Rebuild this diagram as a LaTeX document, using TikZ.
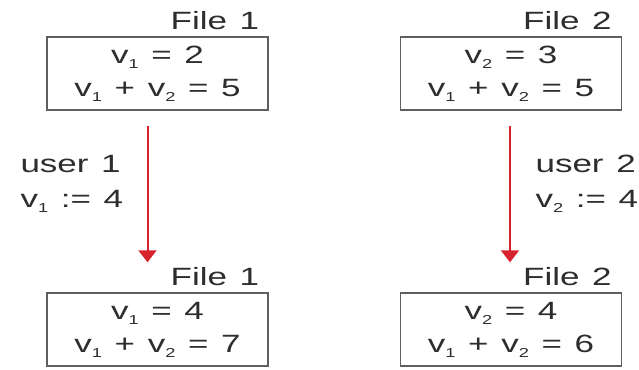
\documentclass[tikz,border=0pt]{standalone}
\usepackage{fontspec}
\setmainfont{Liberation Sans}[FakeStretch=1.4,WordSpace=1.3]
\usetikzlibrary{arrows.meta}
\definecolor{inkgray}{RGB}{45,45,45}
\definecolor{boxgray}{RGB}{95,95,95}
\definecolor{arrred}{RGB}{215,35,45}
\newcommand{\vv}[1]{v\raisebox{-5pt}{\fontsize{13}{13}\selectfont #1}}
\begin{document}
\begin{tikzpicture}[x=1pt,y=-1pt,
    every node/.style={text=inkgray,font=\fontsize{25}{33}\selectfont},
    filebox/.style={draw=boxgray,line width=1.4pt,minimum width=221pt,minimum height=73pt,align=center,inner sep=0pt},
    flow/.style={arrred,line width=2pt,-{Triangle[width=18pt,length=12pt]}}]
        \useasboundingbox (0,0) rectangle (639,369);
        % 修改前的两个文件
        \node[filebox] (f1top) at (157.5,73.5) {\vv{1} = 2\\\vv{1} + \vv{2} = 5};
        \node[filebox] (f2top) at (511,73.5) {\vv{2} = 3\\\vv{1} + \vv{2} = 5};
        \node[anchor=base east] (l1top) at ([shift={(-6,-7)}]f1top.north east) {File 1};
        \node[anchor=base east] (l2top) at ([shift={(-7,-7)}]f2top.north east) {File 2};
        % 修改后的两个文件
        \node[filebox] (f1bot) at (157.5,329.5) {\vv{1} = 4\\\vv{1} + \vv{2} = 7};
        \node[filebox] (f2bot) at (511,329.5) {\vv{2} = 4\\\vv{1} + \vv{2} = 6};
        \node[anchor=base east] (l1bot) at ([shift={(-6,-7)}]f1bot.north east) {File 1};
        \node[anchor=base east] (l2bot) at ([shift={(-7,-7)}]f2bot.north east) {File 2};
        % 用户的更新
        \draw[flow] ([shift={(-10,15)}]f1top.south) -- ([shift={(-10,-30)}]f1bot.north);
        \draw[flow] ([shift={(-1,15)}]f2top.south) -- ([shift={(-1,-30)}]f2bot.north);
        \node[anchor=base west] (u1) at (17,172) {user 1};
        \node[anchor=base west] (a1) at (17,207) {\vv{1} := 4};
        \node[anchor=base west] (u2) at (532,172) {user 2};
        \node[anchor=base west] (a2) at (532,207) {\vv{2} := 4};
    \end{tikzpicture}
\end{document}
